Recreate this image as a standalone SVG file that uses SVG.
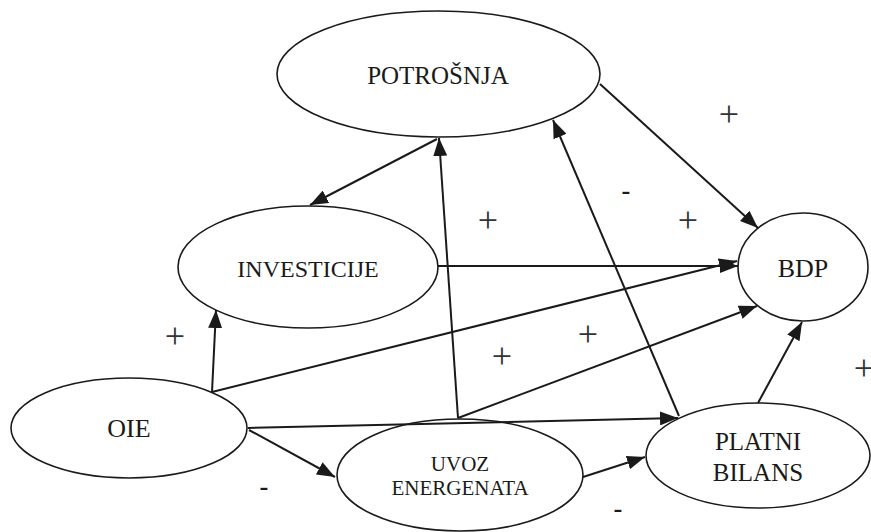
<svg xmlns="http://www.w3.org/2000/svg" width="871" height="532" viewBox="0 0 871 532">
<style>
.node{fill:#fff;stroke:#1a1a1a;stroke-width:1.6}
.lbl{fill:#1a1a1a;text-anchor:middle}
.edge{stroke:#1a1a1a;stroke-width:2;fill:none;marker-end:url(#ah)}
.plus{font-size:36px;fill:#333;text-anchor:middle}
.minus{font-size:28px;fill:#1a1a1a;text-anchor:middle}
</style>
<defs>
<marker id="ah" markerUnits="userSpaceOnUse" markerWidth="18" markerHeight="14" refX="18" refY="7" orient="auto">
<path d="M0,0 L18,7 L0,14 z" fill="#1a1a1a"/>
</marker>
</defs>
<rect width="871" height="532" fill="#fff"/>
<g id="nodes" font-family="Liberation Serif, Times New Roman, DejaVu Serif, serif">
<g id="potrosnja"><ellipse class="node" cx="438.5" cy="74" rx="161.5" ry="63"/><text class="lbl" x="438" y="84" font-size="25">POTROŠNJA</text></g>
<g id="investicije"><ellipse class="node" cx="308" cy="267" rx="130" ry="61"/><text class="lbl" x="308" y="277" font-size="24">INVESTICIJE</text></g>
<g id="oie"><ellipse class="node" cx="129" cy="428" rx="118" ry="50"/><text class="lbl" x="129" y="437" font-size="26">OIE</text></g>
<g id="uvoz"><ellipse class="node" cx="460" cy="475" rx="123" ry="56"/><text class="lbl" x="460" y="471" font-size="21">UVOZ</text><text class="lbl" x="460" y="495" font-size="21">ENERGENATA</text></g>
<g id="platni"><ellipse class="node" cx="758" cy="455.5" rx="112" ry="52.5"/><text class="lbl" x="758" y="450" font-size="25">PLATNI</text><text class="lbl" x="758" y="481" font-size="25">BILANS</text></g>
<g id="bdp"><ellipse class="node" cx="803" cy="267" rx="65" ry="54"/><text class="lbl" x="803" y="277" font-size="26">BDP</text></g>
</g>
<g id="connectors">
<line class="edge" x1="600" y1="84" x2="758" y2="228"/>
<line class="edge" x1="437" y1="139" x2="310" y2="205"/>
<line class="edge" x1="458" y1="418" x2="439" y2="138"/>
<line class="edge" x1="679" y1="416" x2="553" y2="120"/>
<line class="edge" x1="438" y1="266" x2="738" y2="266"/>
<line class="edge" x1="212" y1="392" x2="737" y2="261"/>
<line class="edge" x1="212" y1="392" x2="216" y2="310"/>
<line class="edge" x1="458" y1="418" x2="757" y2="306"/>
<line class="edge" x1="248" y1="428" x2="678" y2="418"/>
<line class="edge" x1="249" y1="430" x2="335" y2="477"/>
<line class="edge" x1="583" y1="477" x2="645" y2="457"/>
<line class="edge" x1="758" y1="403" x2="802" y2="322"/>
</g>
<g id="signs">
<g font-family="Liberation Serif, Times New Roman, DejaVu Serif, serif">
<text class="plus" x="729" y="126">+</text>
<text class="plus" x="688" y="232">+</text>
<text class="plus" x="488" y="232">+</text>
<text class="plus" x="175" y="348">+</text>
<text class="plus" x="502" y="368">+</text>
<text class="plus" x="588" y="346">+</text>
<text class="plus" x="864" y="380">+</text>
</g>
<g font-family="Liberation Sans, Arial, DejaVu Sans, sans-serif">
<text class="minus" x="626" y="200">-</text>
<text class="minus" x="264" y="496">-</text>
<text class="minus" x="618" y="518">-</text>
</g>
</g>
</svg>
